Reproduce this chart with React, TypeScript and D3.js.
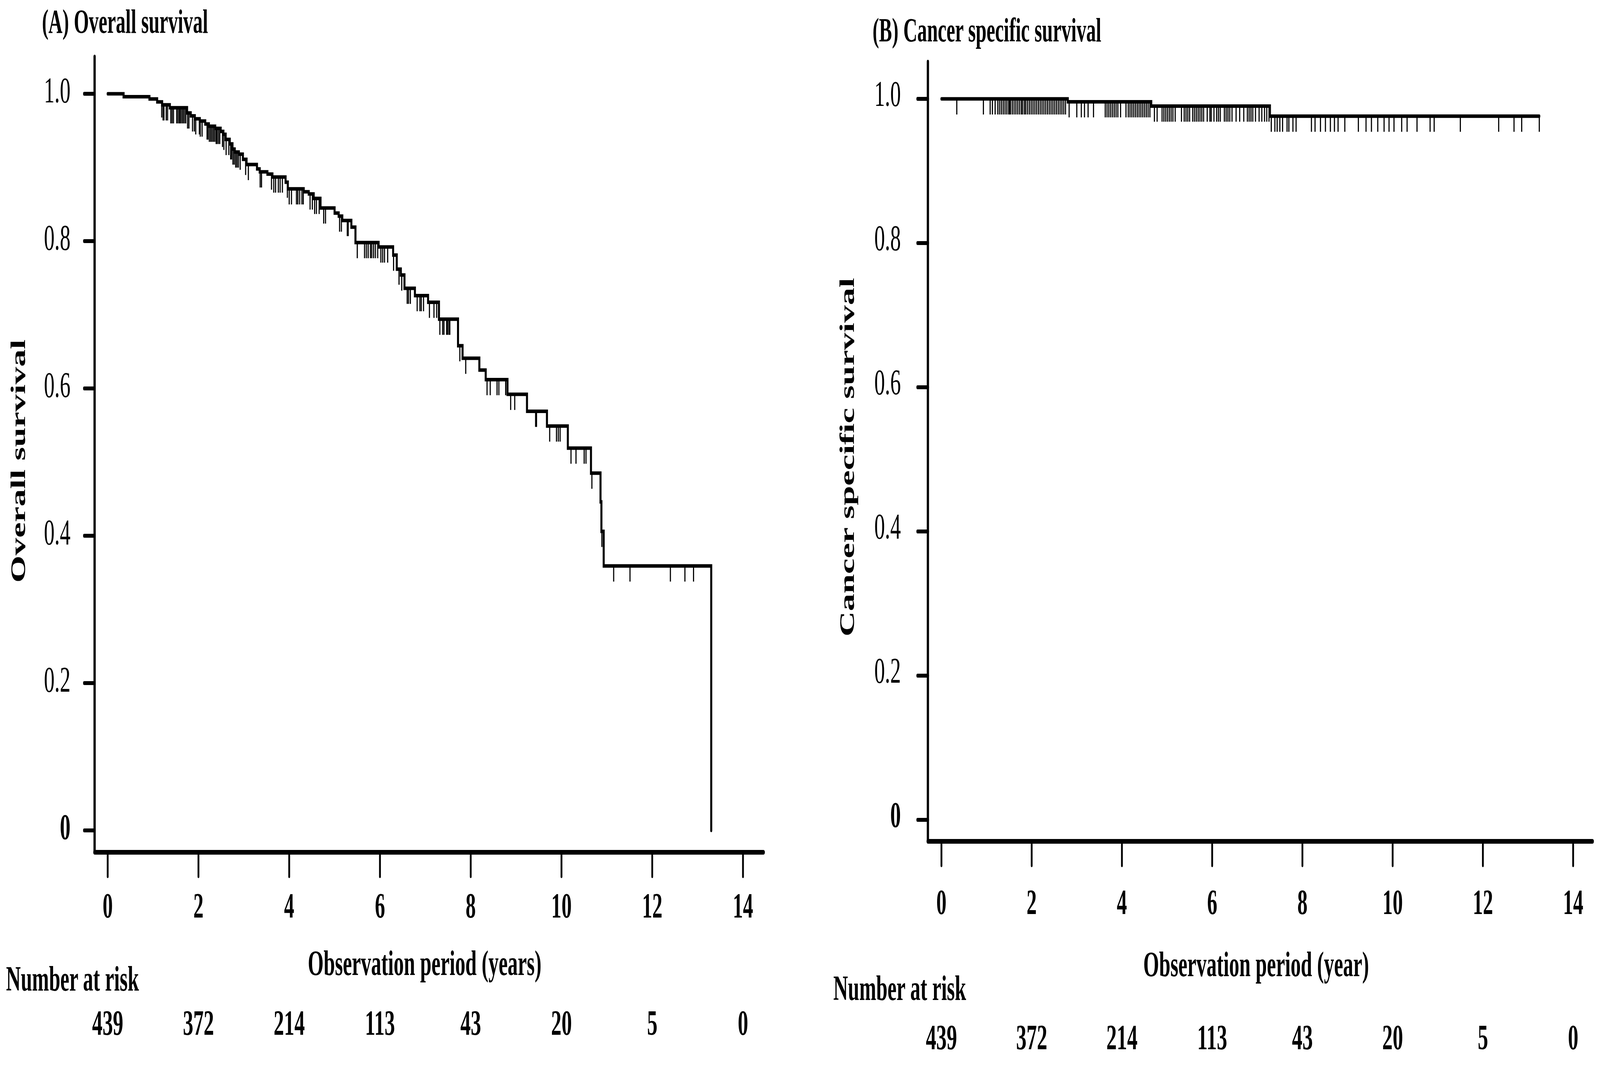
import { useEffect } from "react";
import * as d3 from "d3";

// ---- data ----
const xTicks = [0, 2, 4, 6, 8, 10, 12, 14];
const yTicks = [0, 0.2, 0.4, 0.6, 0.8, 1.0];
const atRisk = [439, 372, 214, 113, 43, 20, 5, 0];

// [time of drop (years), survival after drop]
const osSteps: [number, number][] = [
  [0, 1.0], [0.35, 0.996], [0.92, 0.993], [1.09, 0.989], [1.2, 0.985],
  [1.37, 0.981], [1.75, 0.974], [1.83, 0.97], [1.92, 0.966], [2.03, 0.963],
  [2.15, 0.959], [2.23, 0.956], [2.37, 0.953], [2.49, 0.949], [2.55, 0.945],
  [2.6, 0.938], [2.69, 0.932], [2.75, 0.925], [2.8, 0.921], [2.89, 0.918],
  [2.98, 0.911], [3.06, 0.904], [3.29, 0.898], [3.35, 0.894], [3.52, 0.891],
  [3.63, 0.887], [3.92, 0.88], [3.97, 0.871], [4.32, 0.867], [4.43, 0.864],
  [4.54, 0.858], [4.69, 0.845], [5.0, 0.838], [5.09, 0.834], [5.17, 0.828],
  [5.37, 0.819], [5.46, 0.798], [5.97, 0.792], [6.29, 0.781], [6.37, 0.762],
  [6.46, 0.754], [6.54, 0.736], [6.77, 0.726], [7.06, 0.717], [7.3, 0.694],
  [7.72, 0.658], [7.82, 0.641], [8.19, 0.625], [8.33, 0.612], [8.81, 0.592],
  [9.24, 0.569], [9.68, 0.549], [10.14, 0.519], [10.65, 0.485], [10.86, 0.446],
  [10.88, 0.406], [10.93, 0.359], [13.3, 0],
];

const osCensor = [
  1.19, 1.22, 1.24, 1.29, 1.32, 1.39, 1.42, 1.45, 1.52, 1.55, 1.58, 1.6, 1.63,
  1.66, 1.69, 1.72, 1.76, 1.79, 1.87, 1.91, 1.94, 2.02, 2.04, 2.08, 2.19, 2.21,
  2.24, 2.27, 2.3, 2.33, 2.36, 2.39, 2.41, 2.44, 2.47, 2.53, 2.56, 2.61, 2.67,
  2.71, 2.73, 2.76, 2.79, 2.82, 2.85, 2.88, 2.92, 3.04, 3.1, 3.36, 3.39, 3.61,
  3.66, 3.7, 3.76, 3.8, 3.85, 3.96, 4.0, 4.05, 4.16, 4.19, 4.23, 4.28, 4.31,
  4.46, 4.51, 4.56, 4.6, 4.66, 4.76, 4.8, 5.11, 5.15, 5.28, 5.3, 5.5, 5.66,
  5.7, 5.74, 5.79, 5.82, 5.86, 5.9, 5.95, 6.02, 6.06, 6.1, 6.17, 6.3, 6.42,
  6.48, 6.6, 6.63, 6.67, 6.82, 6.88, 6.91, 6.96, 7.09, 7.19, 7.25, 7.32, 7.38,
  7.41, 7.47, 7.49, 7.52, 7.54, 7.76, 7.89, 8.36, 8.43, 8.58, 8.62, 8.77, 8.88,
  8.97, 9.43, 9.45, 9.74, 9.89, 9.93, 9.97, 10.21, 10.32, 10.5, 10.54, 10.67,
  10.89, 11.15, 11.51, 12.4, 12.72, 12.91,
];

const cssSteps: [number, number][] = [
  [0, 1.0], [2.8, 0.996], [4.65, 0.99], [7.28, 0.976],
];

const cssCensor = [
  0.34, 0.93, 1.08, 1.13, 1.19, 1.25, 1.29, 1.33, 1.37, 1.41, 1.45, 1.49, 1.51,
  1.53, 1.57, 1.61, 1.65, 1.69, 1.73, 1.77, 1.8, 1.84, 1.87, 1.91, 1.95, 1.99,
  2.03, 2.07, 2.11, 2.15, 2.19, 2.23, 2.27, 2.31, 2.35, 2.39, 2.43, 2.47, 2.51,
  2.55, 2.59, 2.63, 2.67, 2.71, 2.75, 2.83, 3.0, 3.1, 3.17, 3.25, 3.37, 3.63,
  3.67, 3.71, 3.75, 3.79, 3.83, 3.87, 3.91, 3.97, 4.09, 4.14, 4.18, 4.22, 4.26,
  4.3, 4.34, 4.38, 4.42, 4.46, 4.5, 4.54, 4.58, 4.62, 4.72, 4.78, 4.89, 4.93,
  4.97, 5.01, 5.05, 5.09, 5.13, 5.18, 5.32, 5.38, 5.42, 5.46, 5.5, 5.57, 5.61,
  5.65, 5.69, 5.73, 5.77, 5.81, 5.89, 5.95, 5.98, 6.04, 6.1, 6.14, 6.18, 6.27,
  6.31, 6.35, 6.39, 6.44, 6.53, 6.61, 6.7, 6.78, 6.82, 6.86, 6.9, 6.96, 7.04,
  7.1, 7.16, 7.21, 7.26, 7.31, 7.39, 7.44, 7.5, 7.56, 7.66, 7.7, 7.79, 7.86,
  8.2, 8.28, 8.4, 8.51, 8.62, 8.71, 8.79, 8.94, 9.24, 9.41, 9.53, 9.67, 9.81,
  9.92, 10.03, 10.2, 10.32, 10.54, 10.83, 10.92, 11.5, 12.35, 12.69, 12.86,
  13.25,
];

const FONT = "'Liberation Serif', 'Times New Roman', Times, serif";
const W = 7087;
const H = 2733;

interface PanelLayout {
  title: string;
  yTitle: string;
  xTitle: string;
  xRange: [number, number];
  yRange: [number, number];
  yAxisX: number;
  yAxisTop: number;
  xAxisY: number;
  xAxisRight: number;
  yLabelX: number;
  yLabelDy: number;
  xLabelY: number;
  titlePos: [number, number];
  yTitlePos: [number, number];
  xTitlePos: [number, number];
  riskLabelPos: [number, number];
  riskY: number;
}

const layoutA: PanelLayout = {
  title: "(A) Overall survival",
  yTitle: "Overall survival",
  xTitle: "Observation period (years)",
  xRange: [477, 3291],
  yRange: [2125, 240],
  yAxisX: 419,
  yAxisTop: 145,
  xAxisY: 2181,
  xAxisRight: 3382,
  yLabelX: 312,
  yLabelDy: 22,
  xLabelY: 2348,
  titlePos: [186, 84],
  yTitlePos: [80, 1180],
  xTitlePos: [1881, 2495],
  riskLabelPos: [27, 2535],
  riskY: 2648,
};

const layoutB: PanelLayout = {
  title: "(B) Cancer specific survival",
  yTitle: "Cancer specific survival",
  xTitle: "Observation period (year)",
  xRange: [4170, 6968],
  yRange: [2098, 253],
  yAxisX: 4110,
  yAxisTop: 158,
  xAxisY: 2153,
  xAxisRight: 7054,
  yLabelX: 3990,
  yLabelDy: 18,
  xLabelY: 2339,
  titlePos: [3865, 106],
  yTitlePos: [3753, 1170],
  xTitlePos: [5564, 2498],
  riskLabelPos: [3691, 2559],
  riskY: 2685,
};

function KMPanel({
  layout,
  steps,
  censor,
}: {
  layout: PanelLayout;
  steps: [number, number][];
  censor: number[];
}) {
  const x = d3.scaleLinear().domain([0, 14]).range(layout.xRange);
  const y = d3.scaleLinear().domain([0, 1]).range(layout.yRange);

  const stepTimes = steps.map((d) => d[0]);
  const survivalAt = (t: number) => {
    const i = Math.max(0, d3.bisectRight(stepTimes, t) - 1);
    return steps[i][1];
  };

  // extend the last level out to the last censored case
  const lastStep = steps[steps.length - 1];
  const lastCensor = d3.max(censor) ?? 0;
  const pts: [number, number][] =
    lastCensor > lastStep[0] ? [...steps, [lastCensor, lastStep[1]]] : steps;

  const line = d3
    .line<[number, number]>()
    .x((d) => x(d[0]))
    .y((d) => y(d[1]))
    .curve(d3.curveStepAfter);

  return (
    <g fontFamily={FONT} fill="#000">
      <text x={layout.titlePos[0]} y={layout.titlePos[1]} fontSize={86} fontWeight="bold">
        {layout.title}
      </text>

      {/* axes */}
      <line
        x1={layout.yAxisX}
        x2={layout.yAxisX}
        y1={layout.yAxisTop}
        y2={layout.xAxisY}
        stroke="#000"
        strokeWidth={10}
        strokeLinecap="round"
      />
      <line
        x1={layout.yAxisX}
        x2={layout.xAxisRight}
        y1={layout.xAxisY}
        y2={layout.xAxisY}
        stroke="#000"
        strokeWidth={12}
        strokeLinecap="round"
      />

      {yTicks.map((v) => (
        <g key={`y${v}`}>
          <line
            x1={layout.yAxisX - 46}
            x2={layout.yAxisX}
            y1={y(v)}
            y2={y(v)}
            stroke="#000"
            strokeWidth={10}
            strokeLinecap="round"
          />
          <text
            x={layout.yLabelX}
            y={y(v) + layout.yLabelDy}
            fontSize={94}
            textAnchor="end"
            fontWeight={v === 0 ? "bold" : "normal"}
          >
            {v === 0 ? "0" : d3.format(".1f")(v)}
          </text>
        </g>
      ))}

      {xTicks.map((v, i) => (
        <g key={`x${v}`}>
          <line
            x1={x(v)}
            x2={x(v)}
            y1={layout.xAxisY}
            y2={layout.xAxisY + 62}
            stroke="#000"
            strokeWidth={8}
            strokeLinecap="round"
          />
          <text x={x(v)} y={layout.xLabelY} fontSize={90} fontWeight="bold" textAnchor="middle">
            {v}
          </text>
          <text x={x(v)} y={layout.riskY} fontSize={92} fontWeight="bold" textAnchor="middle">
            {atRisk[i]}
          </text>
        </g>
      ))}

      <text
        x={layout.xTitlePos[0]}
        y={layout.xTitlePos[1]}
        fontSize={90}
        fontWeight="bold"
        textAnchor="middle"
      >
        {layout.xTitle}
      </text>
      <text
        x={layout.riskLabelPos[0]}
        y={layout.riskLabelPos[1]}
        fontSize={90}
        fontWeight="bold"
      >
        Number at risk
      </text>
      <text
        transform={`translate(${layout.yTitlePos[0]},${layout.yTitlePos[1]}) rotate(-90)`}
        fontSize={90}
        fontWeight="bold"
        textAnchor="middle"
        dominantBaseline="central"
      >
        {layout.yTitle}
      </text>

      {/* survival curve */}
      <path
        d={line(pts) ?? ""}
        fill="none"
        stroke="#000"
        strokeWidth={9}
        strokeLinecap="round"
        strokeLinejoin="miter"
      />

      {/* censor marks */}
      {censor.map((t, i) => (
        <line
          key={`c${i}`}
          x1={x(t)}
          x2={x(t)}
          y1={y(survivalAt(t))}
          y2={y(survivalAt(t)) + 40}
          stroke="#000"
          strokeWidth={5}
        />
      ))}
    </g>
  );
}

export default function App() {
  useEffect(() => {
    document.body.style.margin = "0";
    document.documentElement.style.overflow = "hidden";
    document.body.style.overflow = "hidden";
  }, []);

  return (
    <svg
      viewBox={`0 0 ${W} ${H}`}
      preserveAspectRatio="none"
      style={{
        position: "fixed",
        left: 0,
        top: 0,
        width: "100vw",
        height: "100vh",
        display: "block",
        background: "#fff",
      }}
    >
      <rect width={W} height={H} fill="#fff" />
      <KMPanel layout={layoutA} steps={osSteps} censor={osCensor} />
      <KMPanel layout={layoutB} steps={cssSteps} censor={cssCensor} />
    </svg>
  );
}
